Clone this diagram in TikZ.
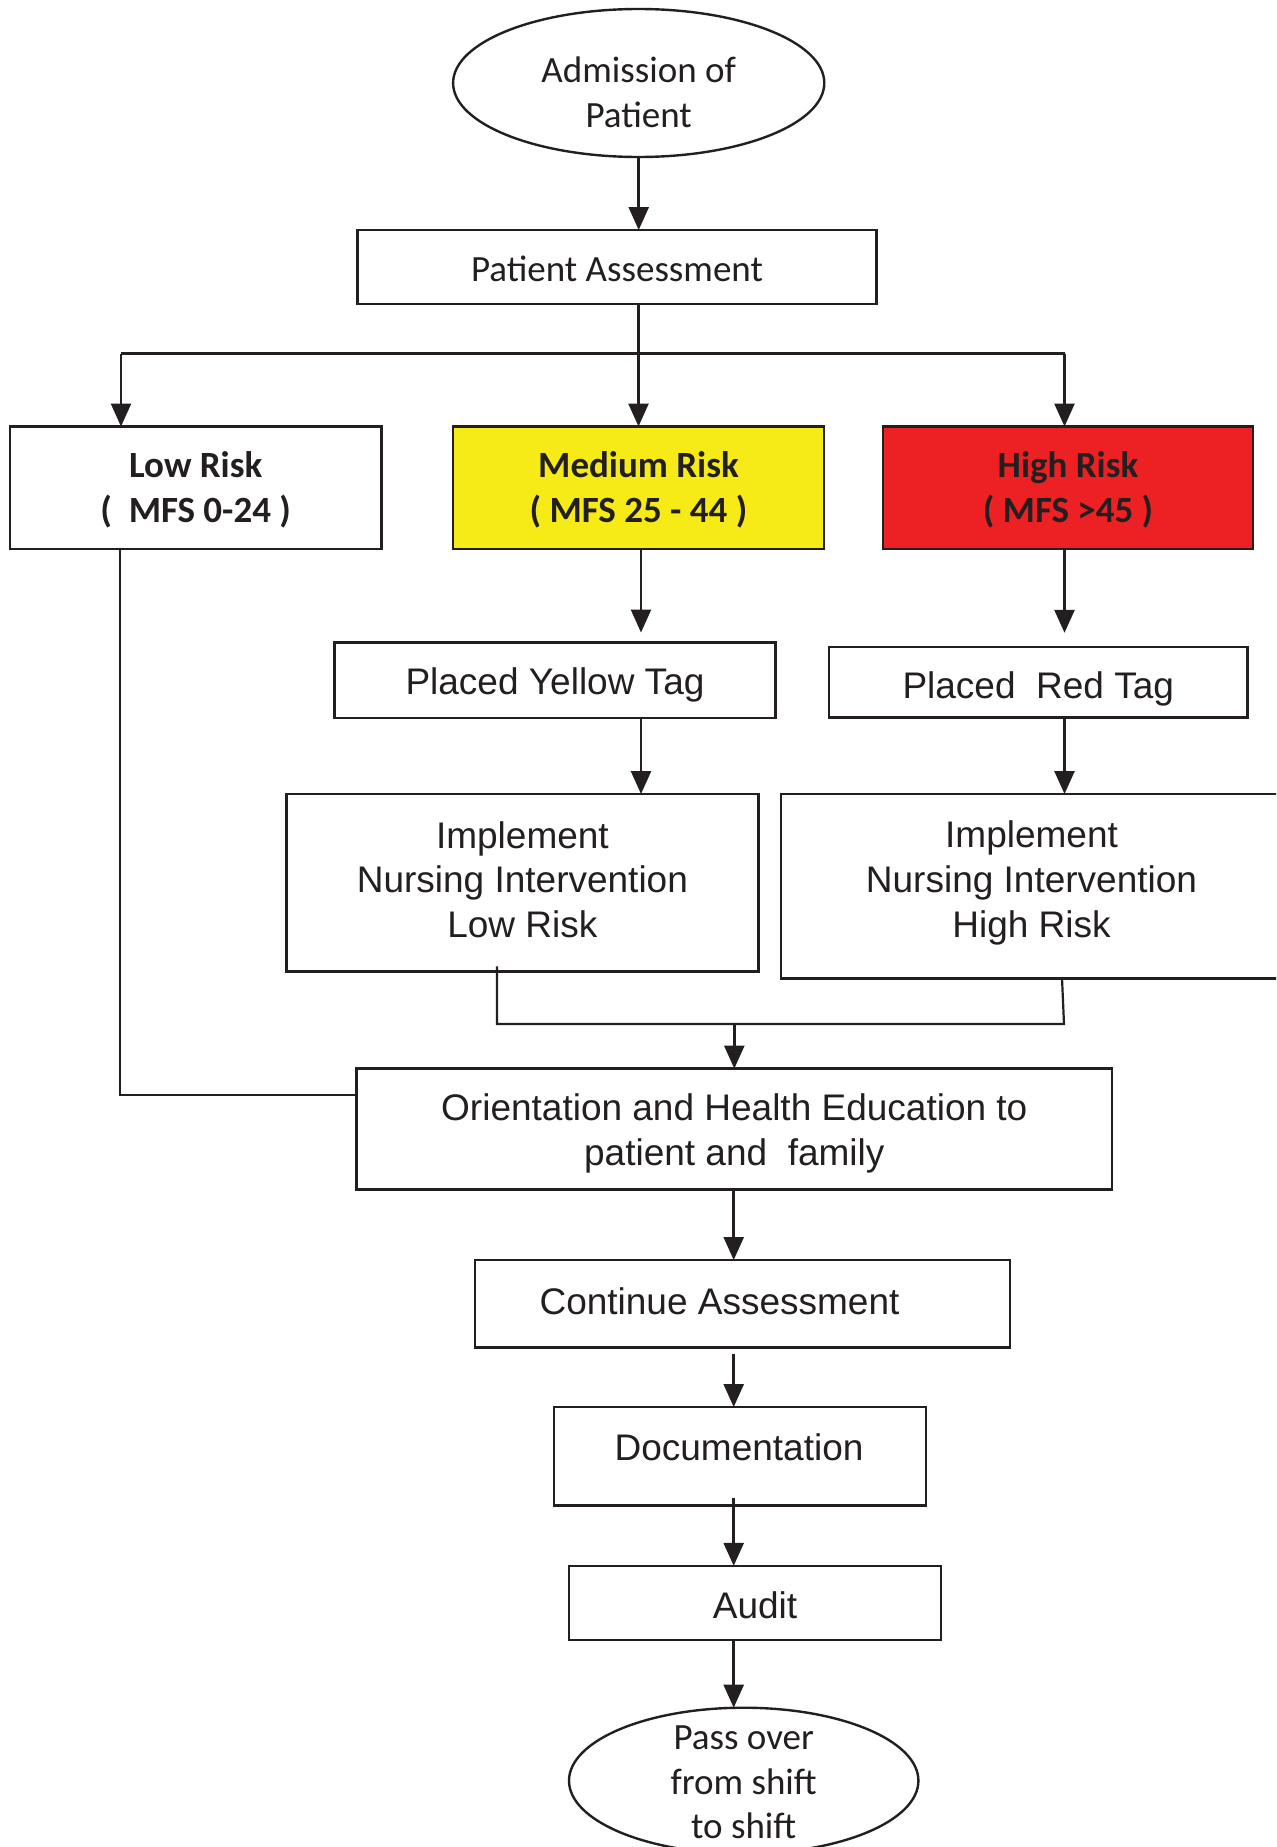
\documentclass[tikz,border=0pt]{standalone}
\usepackage{fontspec}
\setmainfont{Liberation Sans}
\newfontfamily\calfont{Carlito}
\usetikzlibrary{arrows.meta,shapes.geometric}
\definecolor{ink}{RGB}{35,31,32}
\definecolor{tagyellow}{RGB}{246,235,22}
\definecolor{tagred}{RGB}{237,33,36}

\begin{document}
\begin{tikzpicture}[x=0.5pt,y=-0.5pt,
  box/.style={draw=ink, line width=1.3pt, inner sep=0pt, outer sep=0pt, align=center, text=ink},
  oval/.style={ellipse, draw=ink, line width=1.2pt, inner sep=0pt, outer sep=0pt},
  txt/.style={align=center, text=ink, inner sep=0pt},
  cal/.style={font=\calfont\fontsize{18.5}{22.4}\selectfont},
  calb/.style={font=\calfont\bfseries\fontsize{18.5}{22.4}\selectfont},
  ari/.style={font=\fontsize{18.5}{22.4}\selectfont},
  flow/.style={draw=ink, line width=1.3pt, -{Triangle[length=11.5pt,width=10pt]}},
  link/.style={draw=ink, line width=1.1pt}
]
\clip (0,0) rectangle (1276,1847);
\fill[white] (0,0) rectangle (1276,1847);

% start
\node[oval, minimum width=185.6pt, minimum height=74pt] (adm) at (638.7,83) {};
\node[txt, cal, yshift=-4.5pt] (admtext) at (adm.center) {Admission of\\Patient};

\node[box, minimum width=259.5pt, minimum height=37pt] (pa) at (617,267) {};
\node[txt, cal, yshift=-1pt] (patext) at (pa.center) {Patient Assessment};

% risk levels
\node[box, minimum width=185.9pt, minimum height=61.25pt] (lowr) at (195.7,487.75) {};
\node[txt, calb, yshift=-1.2pt] (lowrtext) at (lowr.center) {Low Risk\\(\ \ MFS 0-24 )};
\node[box, fill=tagyellow, minimum width=185.5pt, minimum height=61.25pt] (medr) at (638.5,487.75) {};
\node[txt, calb, yshift=-1.2pt] (medrtext) at (medr.center) {Medium Risk\\( MFS 25 - 44 )};
\node[box, fill=tagred, minimum width=185pt, minimum height=61.25pt] (highr) at (1068,487.75) {};
\node[txt, calb, yshift=-1.2pt] (highrtext) at (highr.center) {High Risk\\( MFS >45 )};

% tags
\node[box, minimum width=220.5pt, minimum height=37.7pt] (ytag) at (555,680.2) {};
\node[txt, ari, yshift=-2.5pt] (ytagtext) at (ytag.center) {Placed Yellow Tag};
\node[box, minimum width=209.25pt, minimum height=35.35pt] (rtag) at (1038.25,682.15) {};
\node[txt, ari, yshift=-3.5pt] (rtagtext) at (rtag.center) {Placed\ \ Red Tag};

% interventions
\node[box, minimum width=236pt, minimum height=88.7pt] (implow) at (522.4,882.7) {};
\node[txt, ari, yshift=1.5pt] (implowtext) at (implow.center) {Implement\\Nursing Intervention\\Low Risk};
\node[box, minimum width=250.5pt, minimum height=92.1pt] (imphigh) at (1031.5,886.1) {};
\node[txt, ari, yshift=1.5pt] (imphightext) at (imphigh.center) {Implement\\Nursing Intervention\\High Risk};

% common path
\node[box, minimum width=377.7pt, minimum height=60.5pt] (orient) at (734.3,1129.1) {};
\node[txt, ari, yshift=-2pt] (orienttext) at (orient.center) {Orientation and Health Education to\\patient and\ \ family};
\node[box, minimum width=267.5pt, minimum height=43.8pt] (cont) at (742.5,1303.8) {};
\node[txt, ari, xshift=-11.5pt, yshift=1.5pt] (conttext) at (cont.center) {Continue Assessment};
\node[box, minimum width=186pt, minimum height=49.3pt] (doc) at (740,1456.3) {};
\node[txt, ari, yshift=4.5pt, xshift=-0.5pt] (doctext) at (doc.center) {Documentation};
\node[box, minimum width=186pt, minimum height=37.1pt] (audit) at (755,1602.9) {};
\node[txt, ari, yshift=-1pt] (audittext) at (audit.center) {Audit};

\node[oval, minimum width=174.7pt, minimum height=73pt] (pass) at (743.7,1780.7) {};
\node[txt, cal, yshift=-0.8pt] (passtext) at (pass.center) {Pass over\\from shift\\to shift};

% connectors
\draw[flow] (adm.south) -- (adm.south |- pa.north);

\coordinate (bl) at (121,353.6);
\coordinate (br) at (1064.5,353.6);
\draw[link, line width=1.3pt] (bl) -- (br);
\draw[flow] (bl) -- (bl |- lowr.north);
\draw[flow] (pa.south -| medr.north) -- (medr.north);
\draw[flow] (br) -- (br |- highr.north);

\coordinate (mc) at (641,0);
\draw[flow, shorten >=5pt] (mc |- medr.south) -- (mc |- ytag.north);
\draw[flow] (mc |- ytag.south) -- (mc |- implow.north);
\draw[flow, shorten >=7pt] (br |- highr.south) -- (br |- rtag.north);
\draw[flow] (br |- rtag.south) -- (br |- imphigh.north);

\coordinate (ml) at (497,1024);
\coordinate (mr) at (1064,1024);
\draw[link] ([yshift=2.5pt]ml |- implow.south) -- (ml) -- (mr) -- (1062,978.2);
\draw[flow] (orient.north |- ml) -- (orient.north);

\coordinate (lowdown) at (119.6,1094.6);
\draw[link] (lowdown |- lowr.south) -- (lowdown) -- (lowdown -| orient.west);

\coordinate (spine) at (733.7,0);
\draw[flow] (spine |- orient.south) -- (spine |- cont.north);
\draw[flow, shorten <=3pt] (spine |- cont.south) -- (spine |- doc.north);
\draw[flow, shorten <=-4pt] (spine |- doc.south) -- (spine |- audit.north);
\draw[flow] (spine |- audit.south) -- (spine |- pass.north);
\end{tikzpicture}
\end{document}
